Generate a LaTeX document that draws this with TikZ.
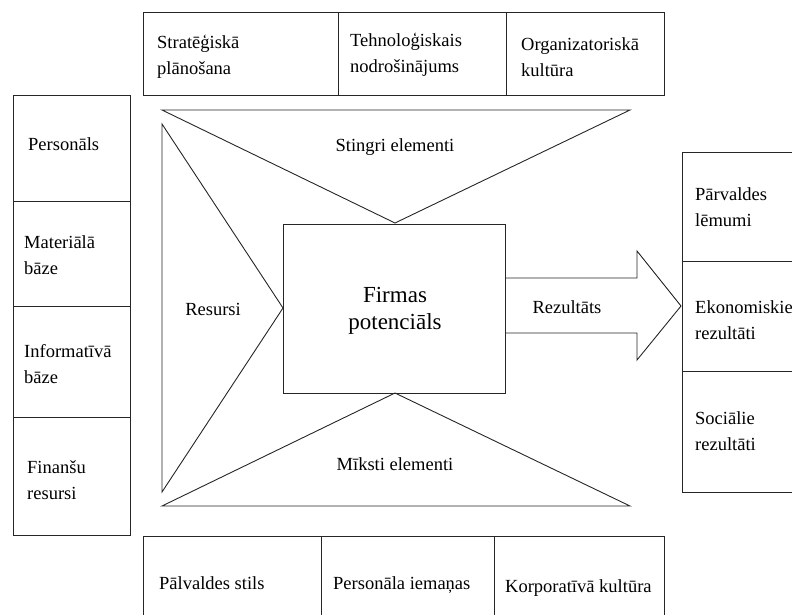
\documentclass[tikz,border=0pt]{standalone}
\usepackage{fontspec}
\setmainfont{Liberation Serif}
\begin{document}
\begin{tikzpicture}[x=1pt,y=-1pt,
  line/.style={draw=black!85,line width=0.9pt,line join=miter},
  lbl/.style={font=\fontsize{18.5}{26}\selectfont,align=left,anchor=west,inner sep=0pt,text=black},
  mid/.style={font=\fontsize{18.5}{26}\selectfont,align=center,inner sep=0pt,text=black},
  big/.style={font=\fontsize{23}{27}\selectfont,align=center,inner sep=0pt,text=black}]
\useasboundingbox (0,0) rectangle (792,615);
\clip (0,0) rectangle (792,615);

% top table: rigid elements
\draw[line] (143,12) rectangle (664,95);
\draw[line] (338,12) -- (338,95);
\draw[line] (506,12) -- (506,95);
\node[lbl] (t1) at (157,57) {Stratēģiskā\\plānošana};
\node[lbl] (t2) at (350,55) {Tehnoloģiskais\\nodrošinājums};
\node[lbl] (t3) at (521,57) {Organizatoriskā\\kultūra};

% bottom table: soft elements
\draw[line] (143,536) rectangle (664,640);
\draw[line] (321,536) -- (321,640);
\draw[line] (494,536) -- (494,640);
\node[lbl] (b1) at (159,583) {Pālvaldes stils};
\node[lbl] (b2) at (333,585) {Personāla iemaņas};
\node[lbl] (b3) at (505,588) {Korporatīvā kultūra};

% left column: resources
\draw[line] (13,95) rectangle (130,535);
\draw[line] (13,201) -- (130,201);
\draw[line] (13,306) -- (130,306);
\draw[line] (13,417) -- (130,417);
\node[lbl] (l1) at (28,144) {Personāls};
\node[lbl] (l2) at (24,255) {Materiālā\\bāze};
\node[lbl] (l3) at (24,364) {Informatīvā\\bāze};
\node[lbl] (l4) at (27,480) {Finanšu\\resursi};

% right column: results
\draw[line] (682,152) rectangle (820,492);
\draw[line] (682,261) -- (820,261);
\draw[line] (682,371) -- (820,371);
\node[lbl] (r1) at (695,207) {Pārvaldes\\lēmumi};
\node[lbl] (r2) at (695,320) {Ekonomiskie\\rezultāti};
\node[lbl] (r3) at (695,431) {Sociālie\\rezultāti};

% central triangles
\draw[line] (162,110) -- (630,110) -- (395,223) -- cycle;
\draw[line] (162,124) -- (162,492) -- (283,308) -- cycle;
\draw[line] (162,506) -- (630,506) -- (395,393) -- cycle;

% firm potential box
\draw[line] (283,224) rectangle (505,393);
\node[big] (fp) at (395,311) {Firmas\\potenciāls};

% output arrow
\draw[line] (505,278) -- (637,278) -- (637,251) -- (681,306) -- (637,360) -- (637,333) -- (505,333);

\node[mid] (se) at (395,147) {Stingri elementi};
\node[mid] (rs) at (213,309) {Resursi};
\node[mid] (rz) at (567,307) {Rezultāts};
\node[mid] (me) at (395,464) {Mīksti elementi};
\end{tikzpicture}
\end{document}
